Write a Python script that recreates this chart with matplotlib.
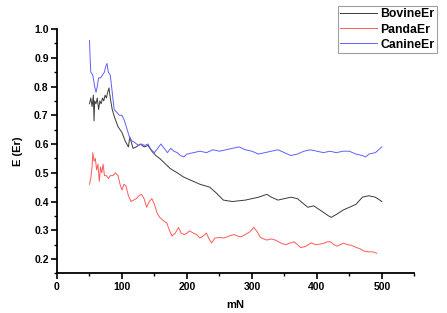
import matplotlib
matplotlib.use("Agg")
import matplotlib.pyplot as plt
from matplotlib.ticker import MultipleLocator

plt.rcParams['font.family'] = ['Liberation Sans', 'DejaVu Sans']

canine_x = [50, 51, 52, 55, 58, 60, 62, 64, 67, 70, 73, 75, 77, 79, 82, 85, 88, 92, 96, 100,
            104, 108, 112, 116, 120, 125, 130, 135, 140, 145, 150, 155, 160, 165, 170, 175, 180,
            185, 190, 195, 200, 210, 220, 230, 240, 250, 260, 270, 280, 290, 300, 310, 320, 330,
            340, 350, 360, 370, 380, 390, 400, 410, 420, 430, 440, 450, 460, 470, 475, 480, 490, 500]
canine_y = [0.96, 0.90, 0.85, 0.84, 0.80, 0.78, 0.80, 0.83, 0.83, 0.84, 0.85, 0.87, 0.88, 0.85,
            0.84, 0.78, 0.72, 0.71, 0.70, 0.70, 0.68, 0.65, 0.62, 0.61, 0.605, 0.595, 0.60, 0.595,
            0.60, 0.58, 0.57, 0.585, 0.60, 0.585, 0.57, 0.585, 0.575, 0.57, 0.56, 0.555, 0.565,
            0.57, 0.575, 0.57, 0.58, 0.575, 0.58, 0.585, 0.59, 0.58, 0.575, 0.565, 0.57, 0.575,
            0.58, 0.57, 0.56, 0.565, 0.575, 0.58, 0.575, 0.57, 0.575, 0.57, 0.575, 0.575, 0.565,
            0.56, 0.555, 0.565, 0.57, 0.59]

bovine_x = [50, 52, 54, 56, 57, 58, 60, 62, 64, 66, 68, 70, 72, 74, 76, 78, 80, 82, 85, 89, 94,
            100, 105, 110, 112, 117, 122, 128, 134, 140, 146, 152, 158, 165, 174, 185, 195, 205,
            220, 235, 245, 256, 270, 290, 300, 310, 323, 330, 340, 350, 360, 370, 378, 386, 395,
            405, 418, 422, 430, 440, 450, 460, 470, 480, 490, 500]
bovine_y = [0.74, 0.76, 0.73, 0.77, 0.68, 0.75, 0.74, 0.76, 0.72, 0.75, 0.74, 0.76, 0.75, 0.77,
            0.76, 0.78, 0.795, 0.76, 0.72, 0.69, 0.66, 0.64, 0.61, 0.59, 0.625, 0.585, 0.59, 0.60,
            0.59, 0.595, 0.575, 0.56, 0.55, 0.535, 0.515, 0.50, 0.485, 0.475, 0.46, 0.45, 0.43,
            0.405, 0.40, 0.405, 0.41, 0.415, 0.425, 0.415, 0.405, 0.41, 0.415, 0.41, 0.395, 0.38,
            0.385, 0.37, 0.35, 0.345, 0.355, 0.37, 0.38, 0.39, 0.415, 0.42, 0.415, 0.40]

panda_x = [50, 52, 54, 55, 57, 59, 61, 63, 65, 67, 69, 71, 73, 76, 79, 82, 86, 90, 94, 97, 100,
           103, 106, 110, 114, 118, 122, 126, 130, 134, 138, 142, 146, 150, 154, 158, 163, 169,
           173, 177, 182, 187, 191, 196, 200, 204, 210, 215, 220, 225, 230, 234, 238, 243, 250,
           257, 265, 272, 278, 283, 290, 297, 303, 308, 313, 318, 323, 330, 337, 345, 352, 358,
           365, 370, 375, 382, 391, 398, 405, 411, 416, 421, 426, 431, 436, 441, 447, 453, 461,
           467, 472, 480, 486, 492]
panda_y = [0.46, 0.48, 0.52, 0.57, 0.54, 0.55, 0.51, 0.53, 0.47, 0.52, 0.50, 0.53, 0.49, 0.49,
           0.48, 0.49, 0.49, 0.50, 0.49, 0.46, 0.44, 0.46, 0.455, 0.42, 0.40, 0.405, 0.41, 0.42,
           0.425, 0.41, 0.38, 0.40, 0.41, 0.39, 0.36, 0.345, 0.335, 0.325, 0.30, 0.28, 0.29, 0.31,
           0.29, 0.285, 0.29, 0.298, 0.29, 0.285, 0.273, 0.28, 0.29, 0.27, 0.256, 0.273, 0.275,
           0.273, 0.28, 0.285, 0.28, 0.277, 0.285, 0.295, 0.31, 0.295, 0.275, 0.27, 0.266, 0.27,
           0.265, 0.255, 0.25, 0.255, 0.26, 0.25, 0.24, 0.243, 0.256, 0.25, 0.252, 0.255, 0.26,
           0.26, 0.25, 0.245, 0.25, 0.255, 0.25, 0.248, 0.24, 0.235, 0.228, 0.225, 0.225, 0.22]

fig = plt.figure(figsize=(4.47, 3.13), dpi=100)
ax = fig.add_axes([0.1275, 0.1265, 0.7995, 0.7808])

ax.plot(bovine_x, bovine_y, color='#3a3a3a', lw=0.7, label='BovineEr')
ax.plot(panda_x, panda_y, color='#ff5a5a', lw=0.7, label='PandaEr')
ax.plot(canine_x, canine_y, color='#6060ff', lw=0.7, label='CanineEr')

ax.set_xlim(0, 550)
ax.set_ylim(0.15, 1.0)
ax.xaxis.set_minor_locator(MultipleLocator(50))
ax.yaxis.set_minor_locator(MultipleLocator(0.05))
ax.set_xticks([0, 100, 200, 300, 400, 500])
ax.set_yticks([0.2, 0.3, 0.4, 0.5, 0.6, 0.7, 0.8, 0.9, 1.0])

for s in ['top', 'right']:
    ax.spines[s].set_visible(False)
for s in ['left', 'bottom']:
    ax.spines[s].set_linewidth(1.3)
ax.tick_params(which='major', direction='out', length=4, width=1.2, labelsize=7.5, pad=2)
ax.tick_params(which='minor', direction='out', length=2.2, width=1.0)
for lbl in ax.get_xticklabels() + ax.get_yticklabels():
    lbl.set_fontweight('bold')

ax.set_xlabel('mN', fontsize=8, fontweight='bold', labelpad=6)
ax.set_ylabel('E (Er)', fontsize=8, fontweight='bold', labelpad=8)

leg = ax.legend(loc='upper right', bbox_to_anchor=(1.063, 1.094), fontsize=8.8, frameon=True,
                fancybox=False, edgecolor='#888888', handlelength=3.0, handletextpad=0.3,
                borderpad=0.2, labelspacing=0.25, borderaxespad=0.0)
leg.get_frame().set_linewidth(0.8)
for t in leg.get_texts():
    t.set_fontweight('bold')

fig.savefig('out.png', dpi=100)
